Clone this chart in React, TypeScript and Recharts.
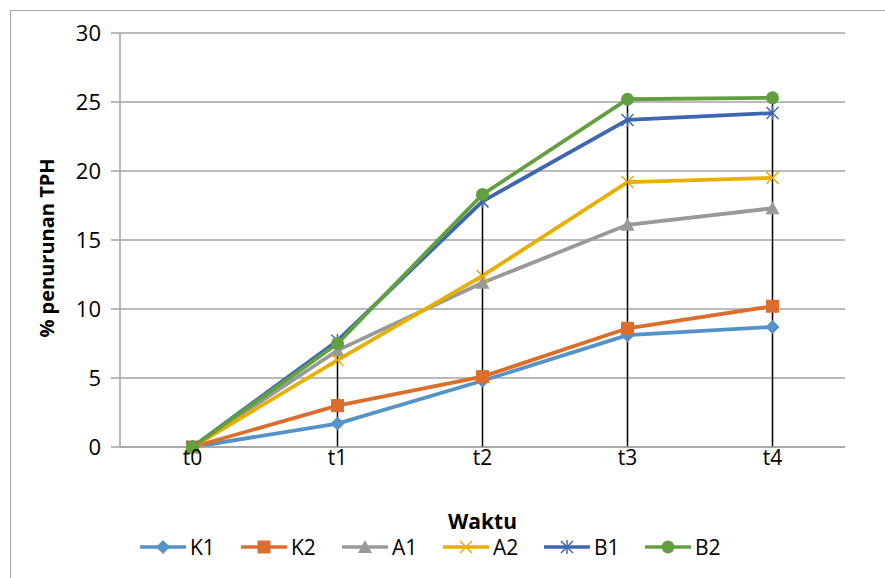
import { ComposedChart, Line, XAxis, YAxis, CartesianGrid, ReferenceLine, Label } from "recharts";

const waktu = ["t0", "t1", "t2", "t3", "t4"];
const k1 = [0, 1.7, 4.8, 8.1, 8.7];
const k2 = [0, 3.0, 5.1, 8.6, 10.2];
const a1 = [0, 7.0, 11.9, 16.1, 17.3];
const a2 = [0, 6.3, 12.4, 19.2, 19.5];
const b1 = [0, 7.7, 17.8, 23.7, 24.2];
const b2 = [0, 7.5, 18.3, 25.2, 25.3];
const yTicks = [0, 5, 10, 15, 20, 25, 30];

const FONT = "'Open Sans', Lato, sans-serif";

const data = waktu.map((t, i) => ({
  t,
  K1: k1[i],
  K2: k2[i],
  A1: a1[i],
  A2: a2[i],
  B1: b1[i],
  B2: b2[i],
}));

const tops = waktu.map((_, i) => Math.max(k1[i], k2[i], a1[i], a2[i], b1[i], b2[i]));

type Shape = "diamond" | "square" | "triangle" | "x" | "star" | "circle";

function Marker({ cx, cy, shape, color }: { cx: number; cy: number; shape: Shape; color: string }) {
  if (cx == null || cy == null) return null;
  switch (shape) {
    case "diamond":
      return <polygon points={`${cx},${cy - 7} ${cx + 7},${cy} ${cx},${cy + 7} ${cx - 7},${cy}`} fill={color} />;
    case "square":
      return <rect x={cx - 6.5} y={cy - 6.5} width={13} height={13} fill={color} />;
    case "triangle":
      return <polygon points={`${cx},${cy - 7} ${cx + 7},${cy + 6} ${cx - 7},${cy + 6}`} fill={color} />;
    case "x":
      return (
        <g stroke={color} strokeWidth={1.5}>
          <line x1={cx - 6} y1={cy - 6} x2={cx + 6} y2={cy + 6} />
          <line x1={cx - 6} y1={cy + 6} x2={cx + 6} y2={cy - 6} />
        </g>
      );
    case "star":
      return (
        <g stroke={color} strokeWidth={1.5}>
          <line x1={cx - 6} y1={cy - 6} x2={cx + 6} y2={cy + 6} />
          <line x1={cx - 6} y1={cy + 6} x2={cx + 6} y2={cy - 6} />
          <line x1={cx} y1={cy - 7} x2={cx} y2={cy + 7} />
        </g>
      );
    default:
      return <circle cx={cx} cy={cy} r={6.5} fill={color} />;
  }
}

const series: { key: string; color: string; shape: Shape }[] = [
  { key: "K1", color: "#5592c9", shape: "diamond" },
  { key: "K2", color: "#db6e2c", shape: "square" },
  { key: "A1", color: "#999999", shape: "triangle" },
  { key: "A2", color: "#e8ae00", shape: "x" },
  { key: "B1", color: "#3e66b2", shape: "star" },
  { key: "B2", color: "#62a03f", shape: "circle" },
];

function LegendRow() {
  return (
    <div
      style={{
        position: "absolute",
        left: 140,
        top: 534,
        display: "flex",
        fontFamily: FONT,
        fontSize: 21,
        lineHeight: "26px",
        color: "#000",
      }}
    >
      {series.map((s) => (
        <div key={s.key} style={{ display: "flex", alignItems: "center", width: 101 }}>
          <svg width={46} height={20}>
            <line x1={0} y1={10} x2={46} y2={10} stroke={s.color} strokeWidth={3.5} />
            <Marker cx={23} cy={10} shape={s.shape} color={s.color} />
          </svg>
          <span style={{ marginLeft: 4 }}>{s.key}</span>
        </div>
      ))}
    </div>
  );
}

export default function App() {
  return (
    <div style={{ position: "absolute", left: 0, top: 0, width: 885, height: 578, background: "#fff" }}>
      <div
        style={{
          position: "absolute",
          left: 10,
          top: 10,
          width: 900,
          height: 600,
          borderTop: "1.5px solid #a6a6a6",
          borderLeft: "1.5px solid #a6a6a6",
        }}
      />
      <ComposedChart
        width={885}
        height={578}
        data={data}
        margin={{ top: 33, right: 40, left: 20, bottom: 101 }}
        style={{ position: "absolute", left: 0, top: 0 }}
      >
        <CartesianGrid vertical={false} stroke="#a3a3a3" strokeWidth={1.5} />
        <XAxis
          dataKey="t"
          scale="band"
          height={30}
          axisLine={{ stroke: "#a3a3a3", strokeWidth: 1.5 }}
          tickLine={false}
          tickSize={0}
          tickMargin={3}
          tick={{ fill: "#000", fontSize: 21, fontFamily: FONT }}
        >
          <Label
            content={({ viewBox }: any) => (
              <text
                x={viewBox.x + viewBox.width / 2}
                y={viewBox.y + 82}
                textAnchor="middle"
                fontFamily={FONT}
                fontSize={21}
                fontWeight="bold"
                fill="#000"
              >
                Waktu
              </text>
            )}
          />
        </XAxis>
        <YAxis
          width={100}
          domain={[0, 30]}
          ticks={yTicks}
          interval={0}
          axisLine={{ stroke: "#a3a3a3", strokeWidth: 1.5 }}
          tickLine={{ stroke: "#a3a3a3", strokeWidth: 1.5 }}
          tickSize={9}
          tickMargin={10}
          tick={{ fill: "#000", fontSize: 22, fontFamily: FONT }}
        >
          <Label
            content={({ viewBox }: any) => {
              const x = viewBox.x + 34;
              const y = viewBox.y + viewBox.height / 2 + 8;
              return (
                <text
                  x={x}
                  y={y}
                  transform={`rotate(-90 ${x} ${y})`}
                  textAnchor="middle"
                  fontFamily={FONT}
                  fontSize={20}
                  fontWeight="bold"
                  fill="#000"
                >
                  % penurunan TPH
                </text>
              );
            }}
          />
        </YAxis>
        {series.map((s) => (
          <Line
            key={s.key}
            dataKey={s.key}
            stroke={s.color}
            strokeWidth={3.8}
            isAnimationActive={false}
            dot={(p: any) => <Marker key={`${s.key}-${p.index}`} cx={p.cx} cy={p.cy} shape={s.shape} color={s.color} />}
            activeDot={false}
          />
        ))}
        {waktu.map((t, i) =>
          tops[i] > 0 ? (
            <ReferenceLine
              key={t}
              segment={[
                { x: t, y: 0 },
                { x: t, y: tops[i] },
              ]}
              stroke="#000"
              strokeWidth={1.5}
            />
          ) : null
        )}
      </ComposedChart>
      <LegendRow />
    </div>
  );
}
